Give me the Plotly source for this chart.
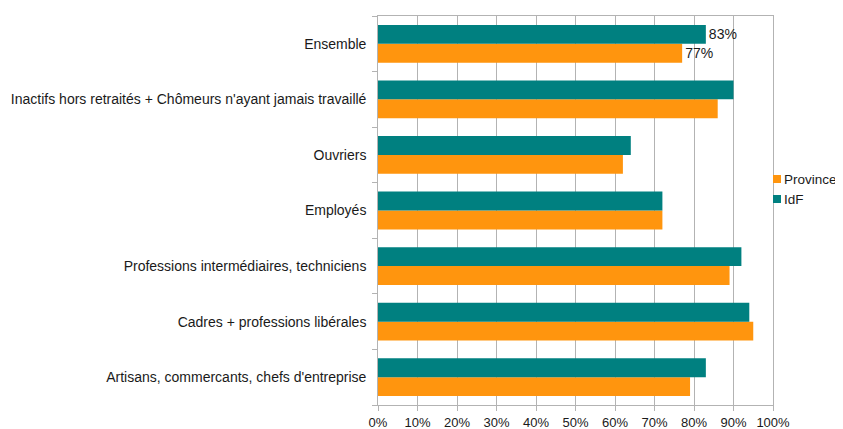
import plotly.graph_objects as go

categories = [
    "Ensemble",
    "Inactifs hors retraités + Chômeurs n'ayant jamais travaillé",
    "Ouvriers",
    "Employés",
    "Professions intermédiaires, techniciens",
    "Cadres + professions libérales",
    "Artisans, commercants, chefs d'entreprise",
]
province = [77, 86, 62, 72, 89, 95, 79]
idf = [83, 90, 64, 72, 92, 94, 83]
label_cats = ["Ensemble"]

FONT = "Liberation Sans, Arial, sans-serif"
GRID = "#b3b3b3"
ORANGE = "#ff950e"
TEAL = "#008080"

# the page body has an 8px margin, so the figure is drawn 8px in from the corner
OFF = 8
W, H = 843 - OFF, 429 - OFF
L, R, T, B = 378 - OFF, 70, 16 - OFF, 24


def labels(values):
    return [f"{v}%" if c in label_cats else "" for c, v in zip(categories, values)]


fig = go.Figure()
for name, vals, color in [("Province", province, ORANGE), ("IdF", idf, TEAL)]:
    fig.add_trace(go.Bar(
        y=categories, x=[v / 100 for v in vals], name=name,
        orientation="h", marker_color=color, marker_line_width=0,
        text=labels(vals), textposition="outside", cliponaxis=False,
        textfont=dict(size=14, color="#1a1a1a"),
    ))

fig.update_layout(
    width=W, height=H,
    margin=dict(l=L, r=R, t=T, b=B, autoexpand=False),
    paper_bgcolor="white", plot_bgcolor="white",
    barmode="group", bargap=0.32, bargroupgap=0,
    font=dict(family=FONT, size=13, color="#1a1a1a"),
    showlegend=False,
)
fig.update_xaxes(
    range=[0, 1], dtick=0.1, tickformat=".0%", automargin=False,
    showgrid=True, gridcolor=GRID, gridwidth=1,
    showline=True, linecolor=GRID, mirror=True,
    ticks="outside", ticklen=5, tickcolor=GRID, zeroline=False,
    tickfont=dict(size=13),
)
fig.update_yaxes(
    categoryorder="array", categoryarray=categories[::-1], automargin=False,
    showline=True, linecolor=GRID, mirror=True,
    ticks="outside", ticklen=5, tickcolor=GRID, tickson="boundaries",
    showgrid=False, ticksuffix="  ", tickfont=dict(size=14),
)

# hand-drawn legend, as in the reference (small squares right of the plot)
pw, ph = W - L - R, H - T - B
for i, (name, color) in enumerate([("Province", ORANGE), ("IdF", TEAL)]):
    yc = 179 + 20 * i - OFF
    x0 = 773 - OFF
    fig.add_shape(
        type="rect", xref="paper", yref="paper",
        x0=(x0 - L) / pw, x1=(x0 + 8 - L) / pw,
        y0=(H - B - (yc + 4)) / ph, y1=(H - B - (yc - 4)) / ph,
        fillcolor=color, line_width=0,
    )
    fig.add_annotation(
        xref="paper", yref="paper", x=(x0 + 10 - L) / pw, y=(H - B - yc) / ph,
        text=name, showarrow=False, xanchor="left", yanchor="middle",
        font=dict(size=13.5, color="#1a1a1a"), borderpad=0,
    )

fig.write_html("out.html")
